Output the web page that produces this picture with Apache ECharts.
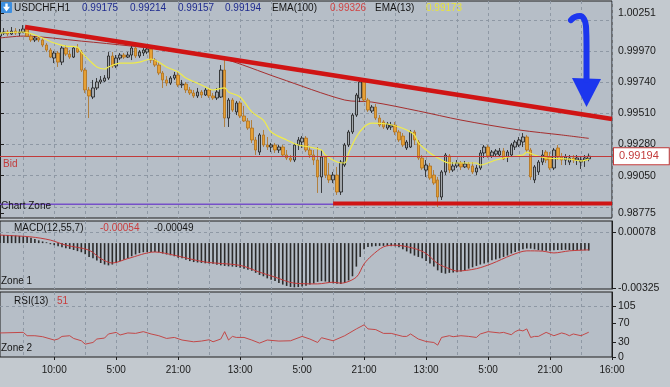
<!DOCTYPE html>
<html><head><meta charset="utf-8">
<script src="https://cdn.jsdelivr.net/npm/echarts@6/dist/echarts.min.js"></script>
<style>html,body{margin:0;padding:0;background:#c3c9cf;}#c{width:670px;height:387px;}</style>
</head><body><div id="c"></div><script>
// ---- data (prices in 1e-5 units) ----
const symbol = 'USDCHF,H1';
const xTickLabels = ['10:00','5:00','21:00','13:00','5:00','21:00','13:00','5:00','21:00','16:00'];
const open = [100081,100103,100111,100096,100118,100103,100111,100133,100081,100052,
100067,100052,100015,99978,99919,99956,99889,99993,99948,99926,
99993,99963,99830,99683,99631,99698,99742,99749,99771,99934,
99860,99919,99941,99926,99941,99993,99934,99956,99963,99985,
99904,99867,99808,99757,99734,99771,99793,99720,99727,99683,
99661,99639,99668,99646,99683,99639,99624,99631,99830,99476,
99609,99521,99587,99491,99454,99402,99314,99225,99351,99277,
99262,99277,99240,99262,99203,99181,99166,99277,99299,99328,
99240,99203,99166,99041,99188,99055,99019,99055,98930,99129,
99277,99373,99498,99624,99742,99609,99528,99557,99476,99447,
99402,99410,99424,99373,99343,99255,99262,99373,99299,99181,
99092,99122,99055,99019,98893,99078,99196,99092,99122,99144,
99115,99137,99122,99078,99107,99218,99262,99196,99210,99203,
99233,99188,99203,99262,99277,99299,99336,99240,99019,99078,
99151,99225,99188,99107,99255,99188,99166,99151,99181,99166,
99151,99166,99175];
const close = [100103,100111,100096,100118,100103,100111,100133,100081,100052,100067,
100052,100015,99978,99926,99956,99889,99993,99948,99926,99993,
99963,99830,99683,99639,99698,99742,99757,99771,99934,99860,
99919,99941,99926,99941,99993,99934,99963,99978,99985,99904,
99867,99808,99757,99734,99771,99793,99720,99727,99683,99661,
99639,99668,99646,99683,99639,99624,99668,99830,99476,99609,
99535,99587,99491,99454,99402,99314,99240,99351,99277,99262,
99277,99240,99262,99203,99181,99166,99277,99314,99328,99240,
99203,99166,99041,99188,99055,99019,99055,98930,99151,99277,
99373,99498,99646,99742,99609,99535,99557,99476,99424,99410,
99432,99424,99373,99314,99277,99299,99373,99314,99181,99107,
99129,99033,98996,98893,99078,99203,99092,99122,99144,99115,
99137,99107,99078,99107,99218,99262,99196,99225,99233,99233,
99174,99225,99277,99299,99314,99336,99240,99041,99115,99151,
99203,99166,99107,99240,99188,99166,99188,99181,99166,99181,
99166,99181,99194];
const low = [100067,100089,100081,100089,100089,100081,100103,100074,100037,100037,
100037,100000,99963,99919,99882,99853,99867,99934,99912,99919,
99956,99816,99661,99476,99616,99683,99727,99742,99757,99845,
99845,99904,99912,99919,99904,99919,99919,99934,99948,99882,
99853,99793,99698,99712,99720,99757,99705,99698,99661,99646,
99624,99624,99624,99639,99624,99609,99609,99624,99410,99410,
99521,99498,99476,99447,99388,99292,99203,99203,99262,99240,
99225,99218,99218,99188,99166,99151,99151,99240,99255,99225,
99181,99129,98923,98923,99033,98996,98996,98908,98908,99115,
99262,99358,99484,99594,99594,99521,99513,99461,99410,99395,
99388,99388,99351,99299,99262,99240,99255,99277,99166,99092,
99041,99019,98982,98819,98871,99055,99070,99078,99107,99092,
99107,99092,99063,99055,99092,99181,99181,99181,99188,99188,
99166,99151,99188,99240,99262,99262,99218,99019,98996,99055,
99129,99144,99092,99092,99166,99129,99129,99129,99144,99129,
99100,99115,99157];
const high = [100126,100140,100126,100148,100140,100133,100162,100148,100096,100081,
100081,100067,100030,99993,99971,99971,100007,100015,99978,100007,
100022,99978,99845,99705,99757,99771,99786,99793,99963,99963,
99941,99956,99956,99963,100007,100007,99978,99993,100007,100000,
99919,99889,99823,99786,99786,99816,99816,99757,99742,99705,
99683,99698,99683,99698,99698,99661,99698,99867,99904,99624,
99624,99602,99602,99565,99476,99461,99336,99365,99388,99336,
99292,99292,99277,99277,99240,99203,99292,99336,99343,99343,
99262,99240,99262,99240,99203,99144,99078,99115,99166,99292,
99388,99513,99661,99771,99757,99624,99572,99580,99498,99461,
99447,99447,99447,99388,99365,99314,99388,99388,99314,99203,
99166,99144,99092,99041,99092,99218,99210,99151,99166,99159,
99159,99151,99151,99129,99240,99277,99277,99240,99247,99255,
99255,99240,99292,99314,99336,99365,99351,99255,99129,99166,
99240,99240,99225,99255,99277,99218,99210,99203,99203,99203,
99188,99203,99214];
// indicator lines: [bar index, value]
const ema13 = [[0,100103],[6,100111],[9,100089],[11,100067],[14,100030],[17,100007],[20,100000],[21,99963],[23,99904],[25,99853],[27,99838],[28,99853],[31,99882],[34,99882],[36,99889],[39,99912],[41,99889],[43,99853],[46,99816],[48,99771],[52,99720],[55,99683],[58,99698],[59,99668],[62,99631],[65,99521],[68,99461],[70,99373],[74,99314],[77,99277],[80,99262],[83,99240],[84,99203],[87,99151],[89,99144],[90,99218],[92,99336],[94,99410],[96,99439],[100,99432],[103,99410],[105,99388],[107,99351],[108,99292],[111,99218],[114,99166],[116,99144],[119,99144],[123,99144],[124,99129],[128,99166],[131,99188],[135,99203],[136,99225],[138,99203],[141,99181],[147,99173],[150,99159],[152,99173]];
const ema100 = [[0,100067],[6,100081],[21,100044],[34,100007],[45,99971],[57,99919],[72,99771],[89,99609],[96,99594],[108,99528],[119,99461],[134,99388],[145,99351],[152,99326]];
const macdMain = [58,58,58,57,55,52,50,44,38,30,
20,12,6,-8,-15,-22,-30,-37,-42,-50,
-58,-66,-80,-100,-110,-125,-144,-155,-161,-155,
-144,-130,-120,-110,-95,-82,-72,-66,-64,-64,
-64,-66,-75,-82,-88,-95,-105,-110,-120,-130,
-137,-140,-143,-146,-148,-150,-156,-161,-165,-168,
-170,-173,-178,-185,-192,-200,-215,-230,-240,-255,
-265,-275,-288,-300,-310,-317,-320,-318,-314,-308,
-300,-292,-280,-275,-278,-285,-290,-294,-295,-288,
-270,-240,-170,-100,-45,-29,-25,-22,-20,-20,
-20,-22,-22,-30,-45,-60,-75,-90,-100,-110,
-130,-148,-170,-197,-215,-221,-215,-212,-210,-205,
-197,-185,-175,-165,-155,-148,-140,-124,-118,-110,
-100,-90,-75,-64,-55,-45,-39,-40,-45,-51,
-55,-55,-55,-52,-50,-50,-48,-50,-51,-50,
-51,-52,-54];
const macdSignal = [[0,58],[8,45],[13,22],[17,-15],[23,-51],[26,-112],[29,-144],[33,-112],[40,-64],[45,-88],[53,-137],[62,-161],[67,-210],[71,-246],[76,-290],[82,-295],[86,-283],[88,-290],[92,-246],[94,-150],[96,-90],[99,-27],[102,-15],[107,-39],[110,-75],[113,-148],[116,-185],[118,-202],[123,-185],[127,-148],[132,-88],[136,-56],[140,-58],[143,-71],[147,-56],[152,-49]];
const rsi = [[0,49.5],[6,50.7],[7,43.8],[9,43.8],[11,41.8],[14,34.9],[15,37],[16,42.4],[18,43.8],[19,38.2],[21,33.4],[22,26.5],[24,29.9],[25,37],[27,39],[28,47.4],[30,50.7],[31,45.3],[33,49.5],[35,48.6],[37,52.2],[39,47.4],[41,43.8],[43,38.2],[45,40.3],[47,34.9],[50,31.3],[52,32.8],[54,35.5],[55,31.3],[57,37],[58,52.2],[59,34.9],[60,42.4],[61,40.3],[63,40.3],[65,34.9],[67,28.6],[69,34.9],[72,32.8],[75,33.4],[78,42.4],[80,37],[82,29.9],[83,39.7],[86,33.4],[89,43.8],[92,57.8],[94,66.2],[95,57.8],[97,56.4],[99,48.6],[101,48.6],[104,42.4],[105,42.4],[106,47.4],[108,37],[110,31.9],[112,29.9],[113,24.4],[114,40.3],[116,43.8],[117,41.8],[119,43.8],[121,42.4],[123,40.3],[124,47.4],[126,52.2],[129,49.5],[130,50.7],[132,45.9],[133,52.2],[134,55.7],[135,53.7],[136,57.8],[137,40.3],[138,42.4],[139,42.4],[141,50.7],[143,43.8],[145,49.5],[146,47.4],[147,43.8],[148,47.4],[150,43.8],[151,47.4],[152,51]];
// drawn objects (bar index, price)
const trendLine = [[6.45,100148],[158,99469]];
const supportLine = [[86,98845],[158,98845]];
const chartZone = [[0,98840],[158,98840]];
const arrowPath = [[147.4,100199],[148.45,100222],[149.74,100229],[150.77,100207],[151.29,100155],[151.42,100015],[151.42,99757]];
const arrowHead = [[147.68,99771],[155.16,99764],[151.42,99557]];
// axis ticks
const priceLabels = [98775,99050,99280,99510,99740,99970,100251];
const priceGrid = [98820,99050,99280,99510,99740,99970,100200];
const macdLabels = [78,-325];
const macdGrid = [78];
const rsiLabels = [0,30,70,105];
const rsiGrid = [105];

// ---- build ----
const P = v => v / 100000;
const N = 159;
const categories = Array.from({length: N}, (_, i) => 'bar' + i);
const FONT = '"Liberation Sans", Arial, sans-serif';
const gridLine = {show: true, lineStyle: {color: '#8e98a4', type: [3, 3], width: 1}};
const vInterval = (i) => i >= 6 && (i - 6) % 8 === 0;
const lInterval = (i) => i >= 14 && (i - 14) % 16 === 0;
const candles = open.map((o, i) => [P(o), P(close[i]), P(low[i]), P(high[i])]);
const last = open.length - 1;
const bid = P(close[last]);

function xCat(gi, extra) {
  return Object.assign({
    type: 'category', gridIndex: gi, data: categories, boundaryGap: false,
    axisLine: {show: false}, axisTick: {show: false}, axisLabel: {show: false},
    splitLine: Object.assign({interval: vInterval}, gridLine)
  }, extra || {});
}
const axisTxt = {color: '#1a1a1a', fontSize: 10.5, fontFamily: FONT, margin: 6};

const option = {
  animation: false,
  backgroundColor: 'transparent',
  grid: [
    {left: 0, right: 58, top: 1, height: 217, show: true, backgroundColor: '#b6bec7', borderColor: '#1e1e1e', borderWidth: 1},
    {left: 0, right: 58, top: 221, height: 68, show: true, backgroundColor: '#b6bec7', borderColor: '#1e1e1e', borderWidth: 1},
    {left: 0, right: 58, top: 292, height: 65, show: true, backgroundColor: '#b6bec7', borderColor: '#1e1e1e', borderWidth: 1}
  ],
  xAxis: [
    xCat(0), xCat(1),
    xCat(2, {
      axisTick: {show: true, interval: lInterval, length: 3, lineStyle: {color: '#1e1e1e'}},
      axisLabel: {show: true, interval: lInterval, color: '#1a1a1a', fontSize: 10, fontFamily: FONT, margin: 8,
        formatter: (v, i) => lInterval(i) ? xTickLabels[(i - 14) / 16] : ''}
    }),
    {type: 'value', gridIndex: 0, min: 0, max: N - 1, show: false}
  ],
  yAxis: [
    {type: 'value', gridIndex: 0, position: 'right', min: P(98738), max: P(100340),
      axisLine: {show: true, lineStyle: {color: '#1e1e1e'}},
      axisTick: {show: true, length: 4, customValues: priceLabels.map(P), lineStyle: {color: '#1e1e1e'}},
      axisLabel: Object.assign({customValues: priceLabels.map(P), formatter: v => v.toFixed(5)}, axisTxt),
      splitLine: {show: false}},
    {type: 'value', gridIndex: 0, position: 'right', min: P(98738), max: P(100340),
      axisLine: {show: false}, axisTick: {show: false, customValues: priceGrid.map(P)}, axisLabel: {show: false},
      splitLine: gridLine},
    {type: 'value', gridIndex: 1, position: 'right', min: P(-332), max: P(160),
      axisLine: {show: true, lineStyle: {color: '#1e1e1e'}},
      axisTick: {show: true, length: 4, customValues: macdLabels.map(P), lineStyle: {color: '#1e1e1e'}},
      axisLabel: Object.assign({customValues: macdLabels.map(P), formatter: v => v.toFixed(5)}, axisTxt),
      splitLine: {show: false}},
    {type: 'value', gridIndex: 1, position: 'right', min: P(-332), max: P(160),
      axisLine: {show: false}, axisTick: {show: false, customValues: macdGrid.map(P)}, axisLabel: {show: false},
      splitLine: gridLine},
    {type: 'value', gridIndex: 2, position: 'right', min: 0, max: 133.8,
      axisLine: {show: true, lineStyle: {color: '#1e1e1e'}},
      axisTick: {show: true, length: 4, customValues: rsiLabels, lineStyle: {color: '#1e1e1e'}},
      axisLabel: Object.assign({customValues: rsiLabels}, axisTxt),
      splitLine: {show: false}},
    {type: 'value', gridIndex: 2, position: 'right', min: 0, max: 133.8,
      axisLine: {show: false}, axisTick: {show: false, customValues: rsiGrid}, axisLabel: {show: false},
      splitLine: gridLine}
  ],
  series: [
    {type: 'line', name: 'EMA100', xAxisIndex: 0, yAxisIndex: 0, data: ema100.map(d => [d[0], P(d[1])]),
      symbol: 'none', smooth: 0.3, lineStyle: {color: '#a52e2e', width: 1}, z: 1, silent: true},
    {type: 'candlestick', xAxisIndex: 0, yAxisIndex: 0, data: candles, barWidth: 3,
      itemStyle: {color: '#a4a9ae', color0: '#e6a034', borderColor: '#1a1a1a', borderColor0: '#b0701c', borderWidth: 0.8},
      z: 2, silent: true},
    {type: 'line', name: 'EMA13', xAxisIndex: 0, yAxisIndex: 0, data: ema13.map(d => [d[0], P(d[1])]),
      symbol: 'none', smooth: 0.3, lineStyle: {color: '#f0ec48', width: 1.2}, z: 3, silent: true},
    {type: 'line', xAxisIndex: 3, yAxisIndex: 0, data: chartZone.map(d => [d[0], P(d[1])]),
      symbol: 'none', lineStyle: {color: '#7650c8', width: 1.5}, z: 3, silent: true,
      markLine: {silent: true, symbol: 'none', animation: false, precision: 5,
        lineStyle: {color: '#c23a3a', width: 1, type: 'solid'},
        data: [
          {yAxis: bid, label: {show: true, position: 'end', distance: 2, formatter: () => bid.toFixed(5),
            color: '#c23a3a', fontSize: 11, fontFamily: FONT, backgroundColor: '#ffffff', borderColor: '#c23a3a', borderWidth: 1, padding: [3, 10, 2, 5]}},
          {yAxis: bid, label: {show: true, position: 'insideStartBottom', distance: 3, formatter: 'Bid',
            color: '#c23a3a', fontSize: 10, fontFamily: FONT}}
        ]}},
    {type: 'line', xAxisIndex: 3, yAxisIndex: 0, data: supportLine.map(d => [d[0], P(d[1])]),
      symbol: 'none', lineStyle: {color: '#d01414', width: 4}, z: 4, silent: true},
    {type: 'line', xAxisIndex: 3, yAxisIndex: 0, data: trendLine.map(d => [d[0], P(d[1])]),
      symbol: 'none', lineStyle: {color: '#d01414', width: 4.5}, z: 4, silent: true},
    {type: 'line', xAxisIndex: 3, yAxisIndex: 0, data: arrowPath.map(d => [d[0], P(d[1])]),
      symbol: 'none', smooth: 0.5, lineStyle: {color: '#1c36ee', width: 6, cap: 'round'}, z: 5, silent: true},
    {type: 'custom', xAxisIndex: 3, yAxisIndex: 0, z: 5, silent: true,
      data: [arrowHead.map(d => [d[0], P(d[1])]).flat()],
      renderItem: (params, api) => {
        const pts = [0, 1, 2].map(k => api.coord([api.value(2 * k), api.value(2 * k + 1)]));
        return {type: 'polygon', shape: {points: pts}, style: {fill: '#1c36ee'}};
      }},
    {type: 'bar', xAxisIndex: 1, yAxisIndex: 2, data: macdMain.map(P), barWidth: 1.6,
      itemStyle: {color: '#2b2b2b'}, silent: true},
    {type: 'line', xAxisIndex: 1, yAxisIndex: 2, data: macdSignal.map(d => [d[0], P(d[1])]),
      symbol: 'none', smooth: 0.3, lineStyle: {color: '#c23a3a', width: 1}, silent: true, z: 3},
    {type: 'line', xAxisIndex: 2, yAxisIndex: 4, data: rsi, symbol: 'none',
      lineStyle: {color: '#c24848', width: 1}, silent: true}
  ],
  graphic: [
    {type: 'group', left: 1, top: 2, children: [
      {type: 'rect', shape: {x: 0, y: 0, width: 11, height: 11, r: 1}, style: {fill: '#3d8fe0'}},
      {type: 'rect', shape: {x: 4.3, y: 1.5, width: 2.4, height: 3.5}, style: {fill: '#ffffff'}},
      {type: 'polygon', shape: {points: [[2, 4.8], [9, 4.8], [5.5, 9.5]]}, style: {fill: '#ffffff'}}
    ]},
    ...[
      [14, 8, symbol, '#151515'],
      [82, 8, P(open[last]).toFixed(5), '#1e2a8e'],
      [130, 8, P(high[last]).toFixed(5), '#1e2a8e'],
      [178, 8, P(low[last]).toFixed(5), '#1e2a8e'],
      [225, 8, P(close[last]).toFixed(5), '#1e2a8e'],
      [272, 8, 'EMA(100)', '#151515'],
      [330, 8, P(ema100[ema100.length - 1][1]).toFixed(5), '#d04444'],
      [375, 8, 'EMA(13)', '#151515'],
      [426, 8, P(ema13[ema13.length - 1][1]).toFixed(5), '#e8e43c'],
      [1, 206, 'Chart Zone', '#151515'],
      [14, 228, 'MACD(12,55,7)', '#151515'],
      [100, 228, P(macdMain[macdMain.length - 1]).toFixed(5), '#c83c3c'],
      [154, 228, P(macdSignal[macdSignal.length - 1][1]).toFixed(5), '#151515'],
      [1, 281, 'Zone 1', '#151515'],
      [14, 301, 'RSI(13)', '#151515'],
      [57, 301, String(Math.round(rsi[rsi.length - 1][1])), '#c83c3c'],
      [1, 348, 'Zone 2', '#151515']
    ].map(t => ({type: 'text', x: t[0], y: t[1], z: 100, silent: true,
      style: {text: t[2], fill: t[3], fontSize: 10, fontFamily: FONT, verticalAlign: 'middle', align: 'left'}}))
  ]
};
const chart = echarts.init(document.getElementById('c'), null, {renderer: 'canvas'});
chart.setOption(option);
</script></body></html>
